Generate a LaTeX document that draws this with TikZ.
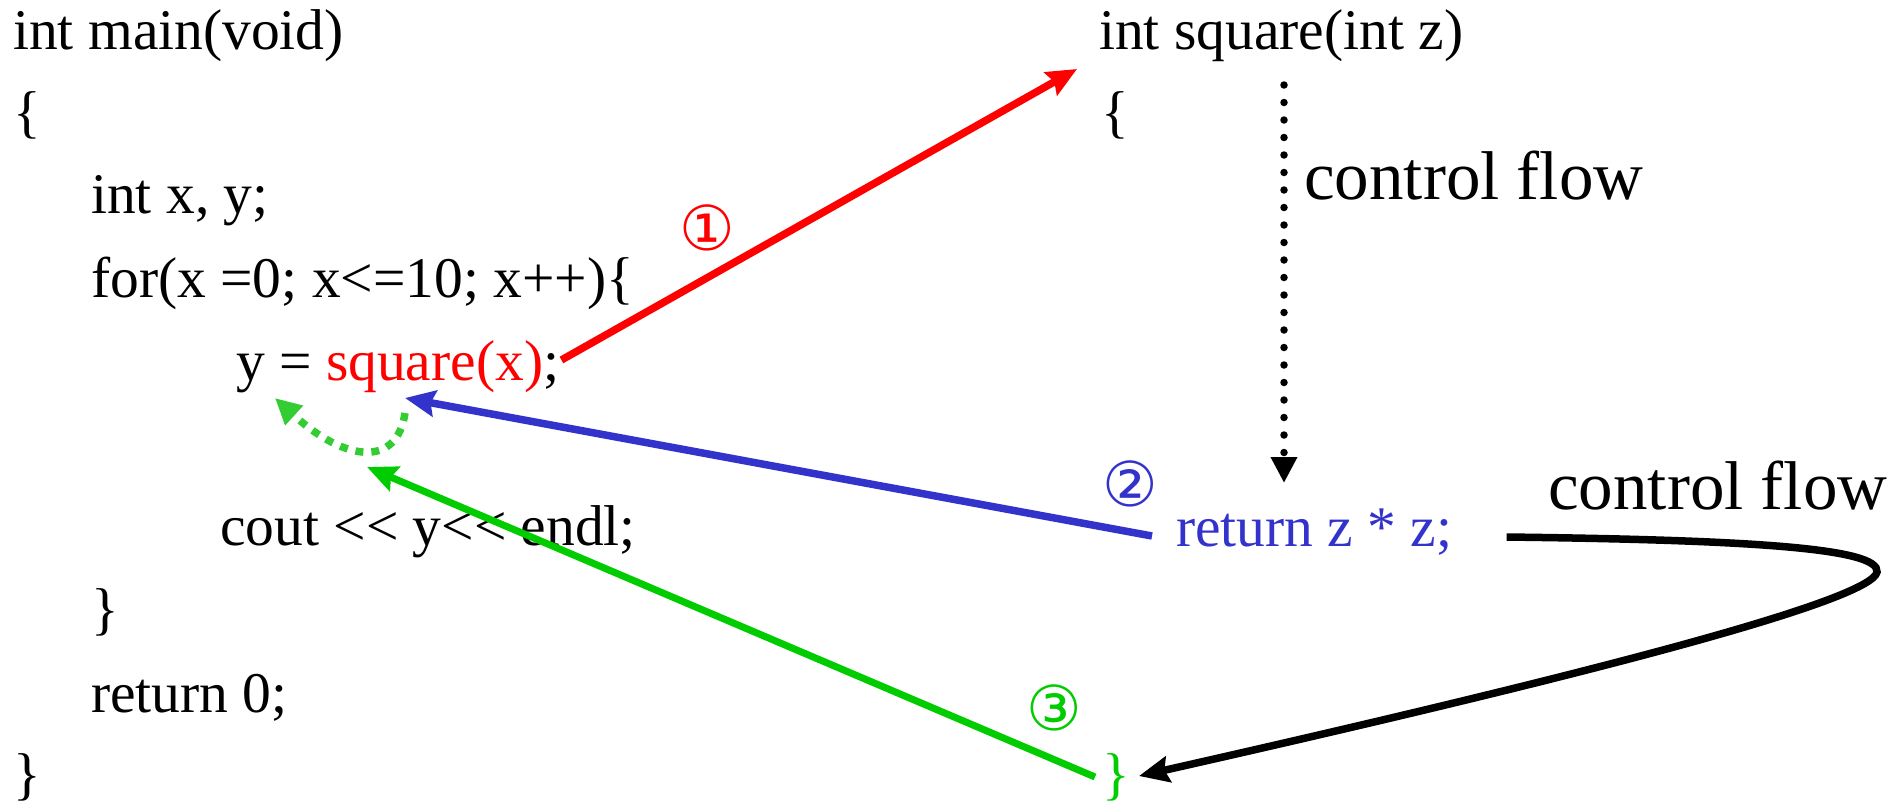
\documentclass[tikz,border=0pt]{standalone}
\usepackage{fontspec}
\setmainfont{Liberation Serif}
\newfontfamily\circfont{DejaVu Sans}
\usetikzlibrary{arrows.meta,calc}
\definecolor{cred}{RGB}{255,0,0}
\definecolor{cblue}{RGB}{51,51,204}
\definecolor{cgreen}{RGB}{0,204,0}
\definecolor{cgreenl}{RGB}{51,204,51}
\begin{document}
\begin{tikzpicture}[x=1pt,y=-1pt,
  code/.style={anchor=base west, inner sep=0pt, font=\fontsize{57.5}{60}\selectfont},
  big/.style={anchor=base west, inner sep=0pt, font=\fontsize{69}{72}\selectfont},
  circ/.style={inner sep=0pt, font=\circfont\fontsize{62}{64}\selectfont},
  conn/.style={line width=7.5pt, -{Stealth[length=30pt,width=26pt,inset=4pt]}},
  tri/.style={-{Triangle[length=26pt,width=25pt]}},
]
\useasboundingbox (0,0) rectangle (1897,804);
% left code
\node[code] (l1) at (13,49) {int main(void)};
\node[code] (l2) at (13,131) {\{};
\node[code] (l3) at (91,213) {int x, y;};
\node[code] (l4) at (91,297) {for(x =0; x<=10; x++)\{};
\node[code] (l5) at (236,380) {y = \textcolor{cred}{square(x)};};
\node[code] (l6) at (220,545) {cout <\kern0pt< y<\kern0pt< endl;};
\node[code] (l7) at (91,628) {\}};
\node[code] (l8) at (91,712) {return 0;};
\node[code] (l9) at (13,793) {\}};
% right code
\node[code] (sq) at (1099,49) {int square(int z)};
\node[code] (sqb) at (1101,131) {\{};
\node[code, text=cblue] (rz) at (1176,546) {return z * z;};
\node[code, text=cgreen] (cb) at (1102,793) {\}};
\node[big] (cf1) at (1304,199) {control flow};
\node[big] (cf2) at (1548,509) {control flow};
% numbers
\node[circ, text=cred] (n1) at (707,228) {①};
\node[circ, text=cblue] (n2) at (1130,484) {②};
\node[circ, text=cgreen] (n3) at (1054,708) {③};
% connectors
\draw[conn, cred] ($(l5.base east)+(2,-20)$) -- ($(sq.base west)+(-22,20)$);
\draw[conn, cblue] ($(rz.base west)+(-24,-10)$) -- ($(l5.base west)+(169,18)$);
\draw[conn, cgreen, line width=7pt] ($(cb.base west)+(-7,-16)$) -- ($(l5.base west)+(131,87)$);
\draw[cgreenl, line width=7.5pt, dash pattern=on 8pt off 8pt, tri]
  ($(l5.base west)+(169,33)$) .. controls (397,468) and (345,462) .. ($(l5.base west)+(39,18)$);
\draw[black, line width=7.5pt, line cap=round, dash pattern=on 0pt off 17.5pt, tri]
  ($(sq.base west)+(185,36)$) -- ($(rz.base west)+(108,-63)$);
\draw[conn, black] ($(rz.base east)+(54,-9)$) .. controls (1750,540) and (1880,548) .. (1877,572)
  .. controls (1872,600) and (1600,672) .. ($(cb.base east)+(9,-17)$);
\end{tikzpicture}
\end{document}
